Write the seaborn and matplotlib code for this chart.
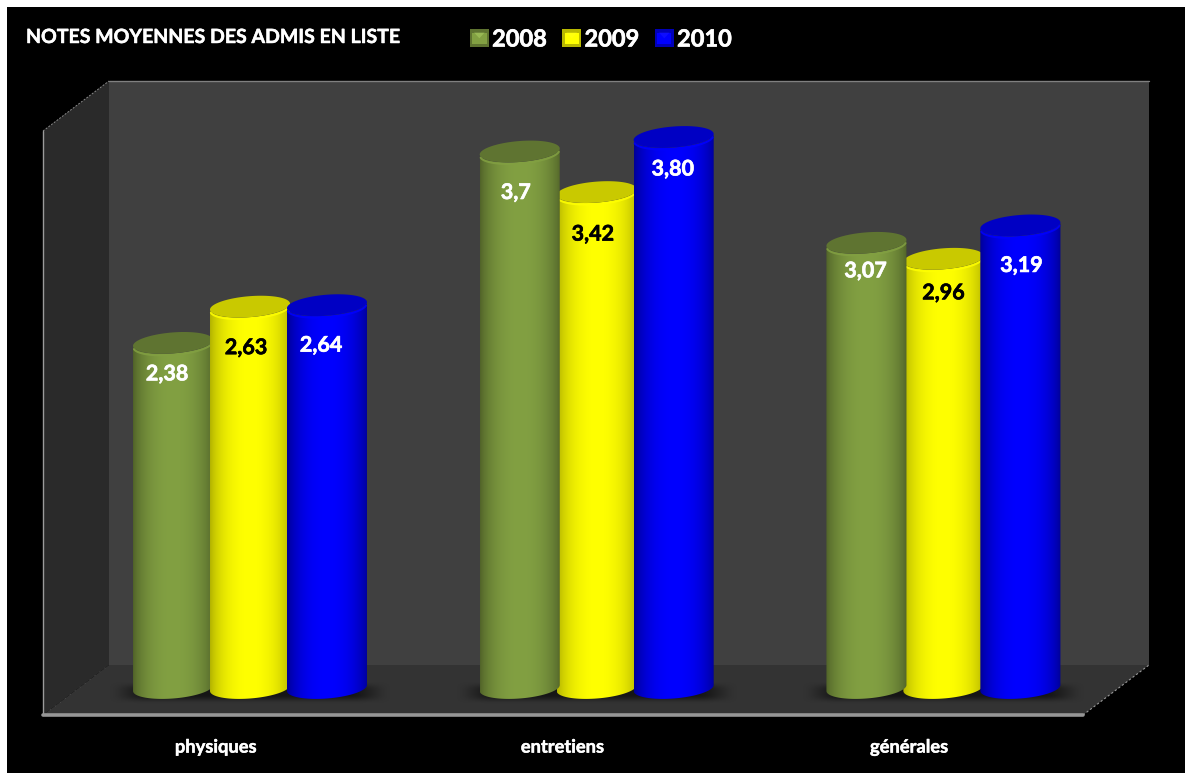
import numpy as np
import pandas as pd
import matplotlib
matplotlib.use("Agg")
import matplotlib.pyplot as plt
import matplotlib.patheffects as pe
import seaborn as sns
from matplotlib.colors import to_rgb
from matplotlib.legend_handler import HandlerBase
from matplotlib.patches import PathPatch, Polygon, Rectangle
from matplotlib.path import Path
from matplotlib.transforms import Affine2D

categories = ["physiques", "entretiens", "générales"]
years = ["2008", "2009", "2010"]
notes_2008 = [2.38, 3.7, 3.07]
notes_2009 = [2.63, 3.42, 2.96]
notes_2010 = [2.64, 3.80, 3.19]
value_labels_2008 = ["2,38", "3,7", "3,07"]
value_labels_2009 = ["2,63", "3,42", "2,96"]
value_labels_2010 = ["2,64", "3,80", "3,19"]

palette = {"2008": "#82A042", "2009": "#FFFF00", "2010": "#0000FF"}
edge_shade = {"2008": 0.62, "2009": 0.70, "2010": 0.58}
lid_colors = {"2008": "#5F7431", "2009": "#C9C900", "2010": "#0000C4"}
label_colors = {"2008": "white", "2009": "black", "2010": "white"}

# Hand placement of the value labels, in pixels from the centre of each lid
label_drop = [[31, 41, 28], [41, 42, 34], [40, 32, 40]]
label_shift = [[-6, -4, -1], [-4, -4, 0], [-6, -1, 1]]
# Stacking of the overlapping cylinders within a cluster
stacking = [[2.0, 2.2, 2.2], [2.1, 2.0, 2.0], [2.2, 2.1, 2.1]]

W, H = 1185, 773
FONT = "Lato"

sns.set_theme(style="white")
plt.rcParams["font.family"] = [FONT, "DejaVu Sans"]


def heavier(color, width=0.45):
    # Thickens the bold face a little with an outline of the text colour
    return [pe.withStroke(linewidth=width, foreground=color)]


frame = pd.DataFrame({
    "categorie": categories * 3,
    "annee": np.repeat(years, 3),
    "note": notes_2008 + notes_2009 + notes_2010,
})

fig = plt.figure(figsize=(W / 100, H / 100), dpi=100, facecolor="black")
pixel = Affine2D().scale(1, -1).translate(0, H)

# White slivers along the top and left edges of the slide
fig.add_artist(Rectangle((0, 0), W, 7, transform=pixel, fc="white", ec="none"))
fig.add_artist(Rectangle((0, 0), 7, H, transform=pixel, fc="white", ec="none"))

# The axes run from the front-left corner to the back-right corner of the box
ax = fig.add_axes([43 / W, 1 - 715 / H, (1149 - 43) / W, (715 - 81) / H])
ax.set_facecolor("none")
ax.patch.set_visible(False)
for spine in ax.spines.values():
    spine.set_visible(False)

# Box of the 3D chart: back wall, side wall, floor and their outlines
back = Polygon([(109, 81), (1149, 81), (1149, 665), (109, 665)],
               transform=pixel, fc="#404040", ec="none", zorder=0.1)
side = Polygon([(43, 131), (109, 81), (109, 665), (43, 715)],
               transform=pixel, fc="#2A2A2A", ec="none", zorder=0.1)
floor = Polygon([(43, 715), (109, 665), (1149, 665), (1083, 715)],
                transform=pixel, fc="#333333", ec="none", zorder=0.1)
for wall in (back, side, floor):
    ax.add_patch(wall)
    wall.set_clip_on(False)
outlines = [
    ([109, 1149], [81, 81], "#808080", 1.0, "-"),
    ([43, 109], [131, 81], "#8A8A8A", 0.7, (0, (2, 1.5))),
    ([43, 43], [131, 715], "#9A9A9A", 1.0, "-"),
    ([43, 1083], [715, 715], "#969696", 2.6, "-"),
    ([1083, 1149], [715, 665], "#9A9A9A", 0.8, (0, (2, 2))),
    ([50, 109], [710, 665], "#6A6A6A", 0.5, (0, (1, 8))),
]
for xs, ys, color, lw, ls in outlines:
    ax.plot(xs, ys, transform=pixel, color=color, lw=lw, ls=ls, clip_on=False,
            zorder=0.2, scalex=False, scaley=False)

sns.barplot(data=frame, x="categorie", y="note", hue="annee", order=categories,
            hue_order=years, palette=palette, width=0.666, gap=0, saturation=1,
            errorbar=None, ax=ax, legend=False, zorder=1)

PX_PER_X = 346.7
PX_PER_Y = 145.0
BASE_PX = 688.0
XLIM = ((43 - 250) / PX_PER_X, (1149 - 250) / PX_PER_X)
YLIM = ((BASE_PX - 715) / PX_PER_Y, (BASE_PX - 81) / PX_PER_Y)

RIM = 10.5 / PX_PER_Y
SHEAR = 3.0 / PX_PER_Y
OVERLAP = 1.04
t = np.linspace(0, 2 * np.pi, 121)


def rim_points(cx, cy, half, arc=t):
    xs = cx + half * np.cos(arc)
    ys = cy + RIM * np.sin(arc) + SHEAR * np.cos(arc)
    return np.column_stack([xs, ys])


def cylinder_path(cx, half, top):
    lower = np.linspace(np.pi, 2 * np.pi, 61)
    bottom_arc = rim_points(cx, 0.0, half, lower)
    top_arc = rim_points(cx, top, half, lower[::-1])
    verts = np.vstack([bottom_arc, top_arc, bottom_arc[:1]])
    return Path(verts, closed=True)


def side_gradient(color, shade, n=128):
    u = np.linspace(-1, 1, n)
    light = shade + (1 - shade) * np.clip(1 - np.abs(u) ** 2.2, 0, 1) ** 0.8
    return np.clip(np.outer(light, to_rgb(color)), 0, 1)[None, :, :]


def smooth(edge):
    edge = np.clip(edge, 0, 1)
    return edge * edge * (3 - 2 * edge)


# Soft contact shadows on the floor below each cluster
for centre in range(len(categories)):
    nx, ny = 280, 60
    gx = np.linspace(-1, 1, nx)
    gy = np.linspace(-1, 1, ny)
    fade_x = smooth((1 - np.abs(gx)) / 0.3)
    fade_y = smooth((1 - np.abs(gy)) / 0.8)
    shadow = np.zeros((ny, nx, 4))
    shadow[..., 3] = 0.58 * np.outer(fade_y, fade_x)
    ax.imshow(shadow, extent=(centre - 143 / PX_PER_X, centre + 143 / PX_PER_X,
                              -16 / PX_PER_Y, 7 / PX_PER_Y),
              origin="upper", aspect="auto", zorder=0.5, interpolation="bilinear")

# Turn every flat bar into a shaded cylinder, keeping its seaborn geometry
label_sets = [value_labels_2008, value_labels_2009, value_labels_2010]
for year_index, (container, year) in enumerate(zip(ax.containers, years)):
    for bar_index, bar in enumerate(container):
        cx = bar.get_x() + bar.get_width() / 2
        half = bar.get_width() / 2 * OVERLAP
        top = bar.get_height()
        bar.set_visible(False)
        z = stacking[year_index][bar_index]
        shape = PathPatch(cylinder_path(cx, half, top), fc="none", ec="none",
                          transform=ax.transData)
        ax.add_patch(shape)
        im = ax.imshow(side_gradient(palette[year], edge_shade[year]),
                       extent=(cx - half, cx + half, -0.2, top + 0.2),
                       aspect="auto", zorder=z, interpolation="bilinear")
        im.set_clip_path(shape)
        lid = Polygon(rim_points(cx, top, half), closed=True,
                      fc=lid_colors[year], ec="none", zorder=z + 0.01)
        ax.add_patch(lid)
        front = rim_points(cx, top - 1.6 / PX_PER_Y, half * 0.99,
                           np.linspace(np.pi * 1.05, np.pi * 1.95, 40))
        ax.plot(front[:, 0], front[:, 1], color=palette[year], lw=1.4,
                zorder=z + 0.02, alpha=0.85)
        ax.text(cx + label_shift[year_index][bar_index] / PX_PER_X,
                top - label_drop[year_index][bar_index] / PX_PER_Y,
                label_sets[year_index][bar_index],
                color=label_colors[year], fontsize=15.5, fontweight="bold",
                ha="center", va="center", zorder=3,
                path_effects=heavier(label_colors[year]))

ax.set_xlim(*XLIM)
ax.set_ylim(*YLIM)

# Category names sit on the front edge of the floor, ahead of the bars
ax.set_xticks(np.arange(len(categories)) - 34 / PX_PER_X, categories)
ax.tick_params(axis="x", length=0, pad=17, labelsize=13.2, labelcolor="white")
for tick in ax.get_xticklabels():
    tick.set_fontweight("bold")
    tick.set_path_effects(heavier("white", 0.35))
ax.set_yticks([])
ax.set_xlabel("")
ax.set_ylabel("")


class BevelHandler(HandlerBase):
    def create_artists(self, legend, orig, xd, yd, width, height, fontsize, trans):
        base = to_rgb(orig.get_facecolor())
        dark = np.array(base) * 0.72
        light = np.clip(np.array(base) * 1.15 + 0.12, 0, 1)
        body = Rectangle((-xd, -yd), width, height, fc=dark, ec="none", transform=trans)
        inset = Rectangle((-xd + width * 0.12, -yd + height * 0.2), width * 0.76, height * 0.62,
                          fc=base, ec="none", transform=trans)
        bevel = Polygon([(-xd + width * 0.22, -yd + height * 0.82),
                         (-xd + width * 0.78, -yd + height * 0.82),
                         (-xd + width * 0.5, -yd + height * 0.5)],
                        fc=light, ec="none", alpha=0.45, transform=trans)
        return [body, inset, bevel]


handles = [Rectangle((0, 0), 1, 1, fc=palette[y]) for y in years]
legend = fig.legend(handles, years, handler_map={Rectangle: BevelHandler()}, ncol=3, frameon=False,
                    loc="center left", bbox_to_anchor=(451 / W, 1 - 39 / H),
                    prop={"family": FONT, "weight": "bold", "size": 17},
                    labelcolor="white", handlelength=0.8, handleheight=0.8,
                    handletextpad=0.14, columnspacing=0.65, borderpad=0.3)
for entry in legend.get_texts():
    entry.set_path_effects(heavier("white"))

fig.text(26 / W, 1 - 37 / H, "NOTES MOYENNES DES ADMIS EN LISTE", color="white",
         fontsize=14.05, fontweight="bold", ha="left", va="center",
         path_effects=heavier("white", 0.35))

fig.savefig("out.png", dpi=100, facecolor=fig.get_facecolor())
